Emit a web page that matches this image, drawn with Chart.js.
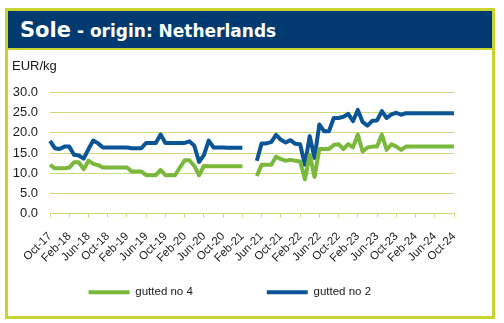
<!DOCTYPE html>
<html>
<head>
<meta charset="utf-8">
<title>Sole - origin: Netherlands</title>
<script src="https://cdn.jsdelivr.net/npm/chart.js@4.4.1/dist/chart.umd.min.js"></script>
<style>
	body {
		margin: 0;
		background: #ffffff;
	}
	#frame {
		position: absolute;
		left: 5px;
		top: 8px;
		width: 490px;
		height: 311px;
		border: 3px solid #c8d42f;
		box-sizing: border-box;
		background: #ffffff;
	}
	#head {
		height: 39px;
		line-height: 37px;
		padding-left: 12px;
		padding-top: 1px;
		box-sizing: border-box;
		background: #003a70;
		border-bottom: 2px solid #c8d42f;
		color: #ffffff;
		font-family: "DejaVu Sans", Verdana, sans-serif;
		font-weight: bold;
		white-space: nowrap;
	}
	#head .big {
		font-size: 21px;
	}
	#head .small {
		font-size: 17px;
	}
</style>
</head>
<body>
<div id="frame">
	<div id="head"><span class="big">Sole</span><span class="small"> - origin: Netherlands</span></div>
	<canvas id="soleChart" width="484" height="266"></canvas>
</div>
<script>
// Monthly categories, Oct-17 to Oct-24
const monthNames = ["Jan", "Feb", "Mar", "Apr", "May", "Jun", "Jul", "Aug", "Sep", "Oct", "Nov", "Dec"];
const months = [];
for (let y = 2017; y <= 2024; y++) {
	for (let m = 0; m < 12; m++) {
		if (y === 2017 && m < 9) continue;
		if (y === 2024 && m > 9) continue;
		months.push(monthNames[m] + "-" + String(y).slice(2));
	}
}

// EUR/kg, null = no price reported (Mar-21, Apr-21)
const guttedNo4 = [
	12.1, 11.2, 11.2, 11.2, 11.4, 12.7, 12.7, 11.0, 13.1, 12.3, 12.0, 11.4,
	11.4, 11.4, 11.4, 11.4, 11.4, 10.4, 10.4, 10.4, 9.5, 9.5, 9.5, 10.8,
	9.5, 9.5, 9.5, 11.4, 13.2, 13.2, 11.8, 9.5, 11.8, 11.7, 11.7, 11.7,
	11.7, 11.7, 11.7, 11.7, 11.7, null, null, 9.3, 12.1, 12.1, 12.1, 14.1,
	13.5, 13.1, 13.3, 13.1, 12.9, 8.5, 14.6, 9.1, 16.0, 16.0, 16.0, 17.0,
	17.2, 16.0, 17.2, 16.4, 19.6, 15.4, 16.4, 16.6, 16.6, 19.6, 15.8, 17.2,
	16.6, 15.8, 16.6, 16.6, 16.6, 16.6, 16.6, 16.6, 16.6, 16.6, 16.6, 16.6,
	16.6
];
const guttedNo2 = [
	18.0, 16.2, 16.0, 16.6, 16.6, 14.6, 14.4, 13.6, 16.0, 18.1, 17.4, 16.4,
	16.4, 16.4, 16.4, 16.4, 16.4, 16.2, 16.2, 16.2, 17.5, 17.5, 17.5, 19.6,
	17.5, 17.5, 17.5, 17.5, 17.5, 17.9, 16.8, 12.8, 14.5, 18.1, 16.4, 16.4,
	16.4, 16.3, 16.3, 16.3, 16.3, null, null, 13.1, 17.4, 17.4, 17.7, 19.5,
	18.3, 17.6, 18.2, 17.3, 17.2, 12.1, 19.2, 13.8, 22.1, 20.4, 20.4, 23.7,
	23.7, 24.0, 24.7, 22.9, 25.7, 22.7, 21.8, 23.0, 23.1, 25.4, 23.7, 24.6,
	25.0, 24.5, 24.9, 24.9, 24.9, 24.9, 24.9, 24.9, 24.9, 24.9, 24.9, 24.9,
	24.9
];

const green = "#79b83b";
const blue = "#0b5597";
const gridColor = "#cadb7e";
const textColor = "#1a1a1a";

Chart.defaults.font.family = "'Liberation Sans', Arial, sans-serif";
Chart.defaults.color = textColor;

// extra room after each legend entry
const legendGap = ["                    ", "  "];

new Chart(document.getElementById("soleChart"), {
	type: "line",
	data: {
		labels: months,
		datasets: [
			{
				label: "gutted no 4",
				data: guttedNo4,
				borderColor: green,
				backgroundColor: green,
				borderWidth: 4,
				pointRadius: 0,
				tension: 0,
				borderJoinStyle: "round",
				spanGaps: false,
			},
			{
				label: "gutted no 2",
				data: guttedNo2,
				borderColor: blue,
				backgroundColor: blue,
				borderWidth: 4,
				pointRadius: 0,
				tension: 0,
				borderJoinStyle: "round",
				spanGaps: false,
			},
		],
	},
	options: {
		responsive: false,
		animation: false,
		layout: {
			padding: { left: 4, right: 38, bottom: 8 },
		},
		plugins: {
			title: {
				display: true,
				text: "EUR/kg",
				align: "start",
				color: textColor,
				font: { size: 13, weight: "normal" },
				padding: { top: 9, bottom: 18 },
			},
			legend: {
				position: "bottom",
				labels: {
					boxWidth: 41,
					boxHeight: 4,
					padding: 10,
					color: textColor,
					font: { size: 11.5 },
					generateLabels: function (chart) {
						const items = Chart.defaults.plugins.legend.labels.generateLabels(chart);
						items.forEach(function (item, i) {
							item.text = item.text + legendGap[i];
							item.fillStyle = item.strokeStyle;
							item.lineWidth = 0;
						});
						return items;
					},
				},
			},
			tooltip: { enabled: false },
		},
		scales: {
			x: {
				grid: {
					drawOnChartArea: false,
					drawTicks: true,
					tickLength: 4,
					color: gridColor,
				},
				border: { color: gridColor, width: 1 },
				ticks: {
					autoSkip: false,
					maxRotation: 45,
					minRotation: 45,
					padding: 12,
					color: textColor,
					font: { size: 11.5 },
					callback: function (value, index) {
						// label every fourth month only
						return index % 4 === 0 ? this.getLabelForValue(value) : null;
					},
				},
				afterFit: function (scale) {
					// fixed band for the rotated labels
					scale.height = 63;
				},
			},
			y: {
				min: 0,
				max: 30,
				grid: { color: gridColor, drawTicks: false },
				border: { display: false },
				ticks: {
					stepSize: 5,
					padding: 12,
					color: textColor,
					font: { size: 13 },
					callback: function (value) {
						return value.toFixed(1);
					},
				},
				afterFit: function (scale) {
					scale.width = 38;
				},
			},
		},
	},
});
</script>
</body>
</html>
